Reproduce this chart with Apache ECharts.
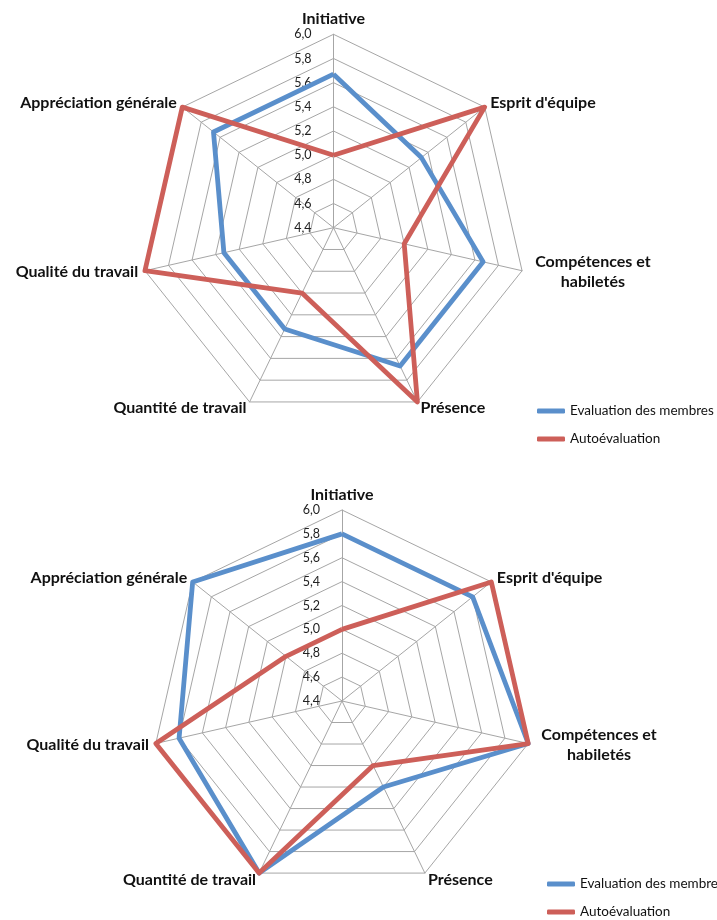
<!DOCTYPE html>
<html>
<head>
<meta charset="utf-8">
<script src="https://cdn.jsdelivr.net/npm/echarts@6/dist/echarts.min.js"></script>
<style>
html,body{margin:0;padding:0;background:#fff;}
#main{width:717px;height:920px;}
</style>
</head>
<body>
<div id="main"></div>
<script>
// Indicators listed counter-clockwise from the top (ECharts order)
var categories = ['Initiative', 'Appréciation générale', 'Qualité du travail', 'Quantité de travail', 'Présence', 'Compétences et\nhabiletés', "Esprit d'équipe"];
var seriesNames = ['Evaluation des membres', 'Autoévaluation'];
var axisMin = 4.4;
var axisMax = 6.0;
var axisSplits = 8;

// Chart 1
var membres1 = [5.67, 5.67, 5.33, 5.33, 5.67, 5.67, 5.33];
var auto1    = [5.0, 6.0, 6.0, 5.0, 6.0, 5.0, 6.0];
// Chart 2
var membres2 = [5.8, 6.0, 5.8, 6.0, 5.2, 6.0, 5.8];
var auto2    = [5.0, 5.0, 6.0, 6.0, 5.0, 6.0, 6.0];

var BLUE = '#5A8FCB';
var RED = '#CD5F59';
var GRID = '#A6A6A6';
var NAME_SIZE = 16;

function fmt(v) { return v.toFixed(1).replace('.', ','); }

function nameFormatter(name) {
  if (name.indexOf('\n') >= 0) {
    return name.split('\n').map(function (s) { return '{c|' + s + '}'; }).join('\n');
  }
  return name;
}

function makeIndicators() {
  return categories.map(function (c, i) {
    var ind = { name: c, min: axisMin, max: axisMax };
    if (i === 0) {
      ind.axisLabel = {
        show: true,
        formatter: fmt,
        color: '#222',
        fontFamily: 'Lato',
        fontSize: 12.5,
        margin: 22,
        align: 'right',
        verticalAlign: 'middle'
      };
    }
    return ind;
  });
}

function makeRadar(center, radius) {
  return {
    center: center,
    radius: radius,
    startAngle: 90,
    shape: 'polygon',
    splitNumber: axisSplits,
    indicator: makeIndicators(),
    nameGap: 7,
    axisName: {
      color: '#111',
      fontFamily: 'Lato',
      fontWeight: 'bold',
      fontSize: NAME_SIZE,
      formatter: nameFormatter,
      rich: {
        c: { width: 128, align: 'center', fontFamily: 'Lato', fontWeight: 'bold', fontSize: NAME_SIZE, color: '#111', lineHeight: 20 }
      }
    },
    axisLabel: { show: false },
    axisTick: { show: false },
    axisLine: { lineStyle: { color: GRID, width: 1 } },
    splitLine: { lineStyle: { color: GRID, width: 1 } },
    splitArea: { show: false }
  };
}

function makeSeries(radarIndex, blue, red) {
  return {
    type: 'radar',
    radarIndex: radarIndex,
    symbol: 'none',
    silent: true,
    data: [
      { name: seriesNames[0], value: blue, lineStyle: { color: BLUE, width: 4.8 }, itemStyle: { color: BLUE } },
      { name: seriesNames[1], value: red, lineStyle: { color: RED, width: 4.8 }, itemStyle: { color: RED } }
    ]
  };
}

function makeLegend(left, top) {
  return {
    orient: 'vertical',
    left: left,
    top: top,
    icon: 'roundRect',
    itemWidth: 28,
    itemHeight: 5,
    itemGap: 12,
    padding: 0,
    selectedMode: false,
    textStyle: { color: '#111', fontFamily: 'Lato', fontSize: 13.5, lineHeight: 16 },
    data: seriesNames
  };
}

var chart = echarts.init(document.getElementById('main'), null, { renderer: 'canvas' });
chart.setOption({
  animation: false,
  backgroundColor: '#fff',
  radar: [makeRadar([333.5, 227.7], 193.4), makeRadar([342, 701], 191)],
  legend: [makeLegend(537, 403), makeLegend(547, 876)],
  series: [makeSeries(0, membres1, auto1), makeSeries(1, membres2, auto2)]
});
</script>
</body>
</html>
